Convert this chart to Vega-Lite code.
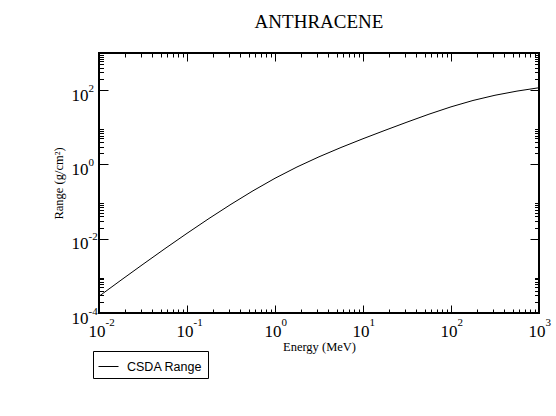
{
  "$schema": "https://vega.github.io/schema/vega-lite/v6.json",
  "width": 440,
  "height": 260,
  "autosize": {"type": "none"},
  "padding": {"left": 99, "top": 53, "right": 17, "bottom": 103},
  "background": "white",
  "title": {"text": "ANTHRACENE", "font": "Liberation Serif", "fontSize": 19, "fontWeight": "normal", "color": "black", "anchor": "middle", "frame": "group", "baseline": "alphabetic", "offset": 6},
  "data": {"values": [
    {"E": 0.01, "R": 0.000282, "series": "CSDA Range"},
    {"E": 0.01778, "R": 0.000766, "series": "CSDA Range"},
    {"E": 0.03162, "R": 0.00205, "series": "CSDA Range"},
    {"E": 0.05623, "R": 0.00541, "series": "CSDA Range"},
    {"E": 0.1, "R": 0.01396, "series": "CSDA Range"},
    {"E": 0.1778, "R": 0.035, "series": "CSDA Range"},
    {"E": 0.3162, "R": 0.0845, "series": "CSDA Range"},
    {"E": 0.5623, "R": 0.195, "series": "CSDA Range"},
    {"E": 1, "R": 0.424, "series": "CSDA Range"},
    {"E": 1.778, "R": 0.853, "series": "CSDA Range"},
    {"E": 3.162, "R": 1.603, "series": "CSDA Range"},
    {"E": 5.623, "R": 2.858, "series": "CSDA Range"},
    {"E": 10, "R": 4.92, "series": "CSDA Range"},
    {"E": 17.78, "R": 8.28, "series": "CSDA Range"},
    {"E": 31.62, "R": 13.77, "series": "CSDA Range"},
    {"E": 56.23, "R": 22.54, "series": "CSDA Range"},
    {"E": 100, "R": 35.5, "series": "CSDA Range"},
    {"E": 177.8, "R": 52.7, "series": "CSDA Range"},
    {"E": 316.2, "R": 72.8, "series": "CSDA Range"},
    {"E": 562.3, "R": 94.2, "series": "CSDA Range"},
    {"E": 1000, "R": 116, "series": "CSDA Range"}
  ]},
  "config": {
    "view": {"stroke": "black", "strokeWidth": 2},
    "axis": {"grid": false, "domain": false, "tickColor": "black", "tickWidth": 1, "labelColor": "black", "titleColor": "black", "labelFlush": false, "labelOverlap": false, "labelBound": false, "labelFont": "Liberation Serif", "titleFont": "Liberation Serif", "titleFontWeight": "normal"}
  },
  "layer": [
    {
      "mark": {"type": "line", "strokeWidth": 1},
      "encoding": {
        "x": {"field": "E", "type": "quantitative", "scale": {"type": "log", "domain": [0.01, 1000], "nice": false}, "axis": {"orient": "bottom", "values": [0.01, 0.1, 1, 10, 100, 1000], "labels": false, "tickSize": -8, "title": null}},
        "y": {"field": "R", "type": "quantitative", "scale": {"type": "log", "domain": [0.0001, 1000], "nice": false}, "axis": {"orient": "left", "values": [0.0001, 0.01, 1, 100], "labels": false, "tickSize": -9, "title": null}},
        "stroke": {"field": "series", "type": "nominal", "scale": {"range": ["black"]}, "legend": {"orient": "none", "legendX": -6, "legendY": 298, "title": null, "symbolType": "stroke", "symbolSize": 400, "symbolStrokeWidth": 1, "symbolStrokeColor": "#444", "labelFont": "Liberation Sans", "labelFontSize": 12.5, "labelColor": "black", "labelOffset": 8, "padding": 5, "strokeColor": "black", "fillColor": "white"}}
      }
    },
    {
      "mark": {"type": "line", "opacity": 0},
      "encoding": {
        "x": {"field": "E", "type": "quantitative", "axis": {"orient": "bottom", "values": [0.02,0.03,0.04,0.05,0.06,0.07,0.08,0.09,0.2,0.3,0.4,0.5,0.6,0.7,0.8,0.9,2,3,4,5,6,7,8,9,20,30,40,50,60,70,80,90,200,300,400,500,600,700,800,900], "labels": false, "tickSize": -4, "title": null}},
        "y": {"field": "R", "type": "quantitative", "axis": {"orient": "left", "values": [0.0002,0.0003,0.0004,0.0005,0.0006,0.0007,0.0008,0.0009,0.02,0.03,0.04,0.05,0.06,0.07,0.08,0.09,2,3,4,5,6,7,8,9,200,300,400,500,600,700,800,900], "labels": false, "tickSize": -4.5, "title": null}}
      }
    },
    {
      "mark": {"type": "line", "opacity": 0},
      "encoding": {
        "x": {"field": "E", "type": "quantitative", "axis": {"orient": "top", "values": [0.01, 0.1, 1, 10, 100, 1000], "labels": false, "tickSize": -8, "title": null}},
        "y": {"field": "R", "type": "quantitative", "axis": {"orient": "right", "values": [0.0001, 0.01, 1, 100], "labels": false, "tickSize": -9, "title": null}}
      }
    },
    {
      "mark": {"type": "line", "opacity": 0},
      "encoding": {
        "x": {"field": "E", "type": "quantitative", "axis": {"orient": "top", "values": [0.02,0.03,0.04,0.05,0.06,0.07,0.08,0.09,0.2,0.3,0.4,0.5,0.6,0.7,0.8,0.9,2,3,4,5,6,7,8,9,20,30,40,50,60,70,80,90,200,300,400,500,600,700,800,900], "labels": false, "tickSize": -4, "title": null}},
        "y": {"field": "R", "type": "quantitative", "axis": {"orient": "right", "values": [0.0002,0.0003,0.0004,0.0005,0.0006,0.0007,0.0008,0.0009,0.02,0.03,0.04,0.05,0.06,0.07,0.08,0.09,2,3,4,5,6,7,8,9,200,300,400,500,600,700,800,900], "labels": false, "tickSize": -4.5, "title": null}}
      }
    },
    {
      "mark": {"type": "line", "opacity": 0},
      "encoding": {
        "x": {"field": "E", "type": "quantitative", "axis": {"orient": "bottom", "values": [0.01, 0.1, 1, 10, 100, 1000], "ticks": false, "tickSize": 0, "labelExpr": "'10'", "labelAlign": "right", "labelOffset": 6, "labelBaseline": "alphabetic", "labelPadding": 23, "labelFontSize": 17, "title": "Energy (MeV)", "titleFontSize": 12.5, "titlePadding": 1}},
        "y": {"field": "R", "type": "quantitative", "axis": {"orient": "left", "values": [0.0001, 0.01, 1, 100], "ticks": false, "tickSize": 0, "labelExpr": "'10'", "labelAlign": "right", "labelOffset": 10, "labelBaseline": "alphabetic", "labelPadding": 11, "labelFontSize": 17, "title": "Range (g/cm²)", "titleFontSize": 12.5, "titlePadding": 6}}
      }
    },
    {
      "mark": {"type": "line", "opacity": 0},
      "encoding": {
        "x": {"field": "E", "type": "quantitative", "axis": {"orient": "bottom", "values": [0.01, 0.1, 1, 10, 100, 1000], "ticks": false, "tickSize": 0, "labelExpr": "'' + round(log(datum.value) / LN10)", "labelAlign": "left", "labelOffset": 6, "labelBaseline": "alphabetic", "labelPadding": 12, "labelFontSize": 11, "title": null}},
        "y": {"field": "R", "type": "quantitative", "axis": {"orient": "left", "values": [0.0001, 0.01, 1, 100], "ticks": false, "tickSize": 0, "labelExpr": "'' + round(log(datum.value) / LN10)", "labelAlign": "left", "labelOffset": 1, "labelBaseline": "alphabetic", "labelPadding": 11, "labelFontSize": 11, "title": null}}
      }
    }
  ],
  "resolve": {"axis": {"x": "independent", "y": "independent"}}
}
